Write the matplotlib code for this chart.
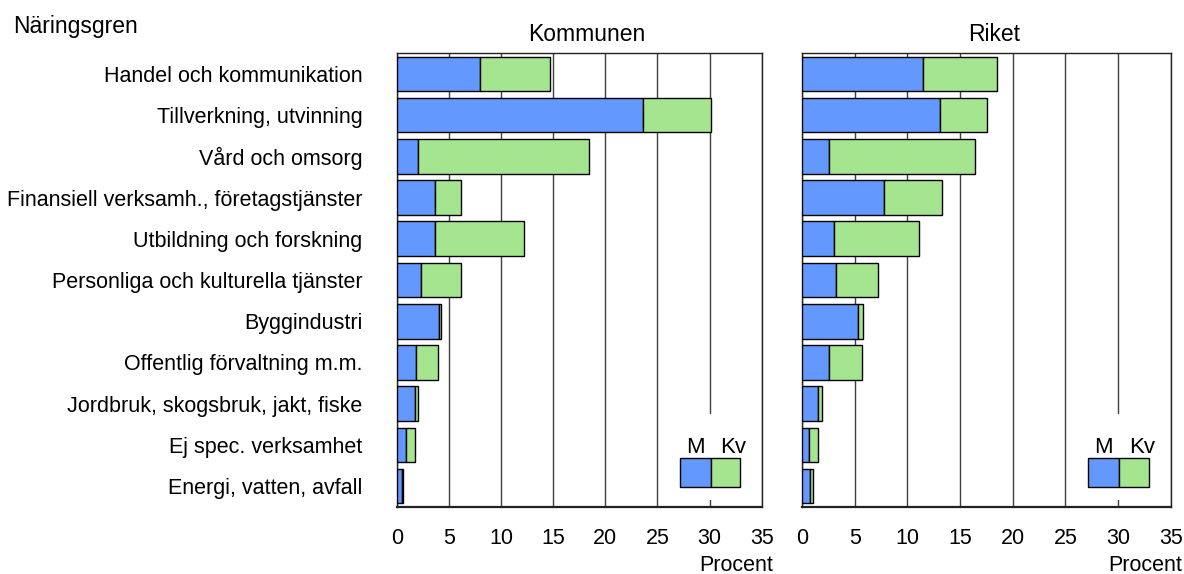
#! /usr/bin/env python3
import matplotlib
matplotlib.use("Agg")
import matplotlib.pyplot as plt
from matplotlib.patches import Rectangle

plt.rcParams["font.family"] = ["Liberation Sans", "DejaVu Sans"]

CATEGORIES = [
    "Handel och kommunikation",
    "Tillverkning, utvinning",
    "Vård och omsorg",
    "Finansiell verksamh., företagstjänster",
    "Utbildning och forskning",
    "Personliga och kulturella tjänster",
    "Byggindustri",
    "Offentlig förvaltning m.m.",
    "Jordbruk, skogsbruk, jakt, fiske",
    "Ej spec. verksamhet",
    "Energi, vatten, avfall",
]

# percent of employed, men (M) and women (Kv)
kommun_m = [8.0, 23.6, 2.0, 3.6, 3.6, 2.35, 4.0, 1.8, 1.7, 0.85, 0.5]
kommun_kv = [6.65, 6.5, 16.4, 2.5, 8.55, 3.75, 0.2, 2.15, 0.3, 0.85, 0.05]
riket_m = [11.45, 13.1, 2.6, 7.75, 3.05, 3.25, 5.3, 2.6, 1.5, 0.65, 0.8]
riket_kv = [7.05, 4.45, 13.8, 5.5, 8.05, 3.95, 0.45, 3.1, 0.35, 0.9, 0.2]

XTICKS = [0, 5, 10, 15, 20, 25, 30, 35]

BLUE = "#6399ff"
GREEN = "#a6e590"
FS = 15.5


def panel(ax, title, m, kv):
    y = list(range(len(CATEGORIES)))
    ax.barh(y, m, height=0.84, color=BLUE, edgecolor="black", linewidth=1.0, zorder=3)
    ax.barh(y, kv, left=m, height=0.84, color=GREEN, edgecolor="black", linewidth=1.0, zorder=3)
    ax.set_xlim(0, 35)
    ax.set_ylim(len(CATEGORIES) - 0.5, -0.5)
    ax.set_xticks(XTICKS)
    ax.tick_params(axis="x", length=0, labelsize=FS, pad=15)
    ax.tick_params(axis="y", length=0)
    ax.grid(axis="x", color="#404040", linewidth=1.0, zorder=1)
    for s in ax.spines.values():
        s.set_color("#222222")
        s.set_linewidth(1.0)
    ax.spines["bottom"].set_linewidth(1.6)
    ax.set_title(title, fontsize=16.5, pad=9, x=0.52)
    ax.text(1.031, -0.129, "Procent", transform=ax.transAxes,
        ha="right", va="center", fontsize=FS)

    # legend box, labels above the swatches
    ax.add_patch(Rectangle((0.74, 0.015), 0.235, 0.19, transform=ax.transAxes,
        facecolor="white", edgecolor="none", zorder=2))
    ax.add_patch(Rectangle((0.776, 0.043), 0.084, 0.064, transform=ax.transAxes,
        facecolor=BLUE, edgecolor="black", linewidth=1.0, zorder=4))
    ax.add_patch(Rectangle((0.860, 0.043), 0.080, 0.064, transform=ax.transAxes,
        facecolor=GREEN, edgecolor="black", linewidth=1.0, zorder=4))
    ax.text(0.818, 0.118, "M", transform=ax.transAxes, ha="center",
        va="baseline", fontsize=16)
    ax.text(0.922, 0.118, "Kv", transform=ax.transAxes, ha="center",
        va="baseline", fontsize=16)


fig = plt.figure(figsize=(11.84, 5.74), dpi=100)
ax1 = fig.add_axes([0.3353, 0.1172, 0.3080, 0.7900])
ax2 = fig.add_axes([0.6774, 0.1172, 0.3114, 0.7900])

panel(ax1, "Kommunen", kommun_m, kommun_kv)
panel(ax2, "Riket", riket_m, riket_kv)

ax1.set_yticks(range(len(CATEGORIES)))
ax1.set_yticklabels(CATEGORIES, fontsize=FS)
ax1.tick_params(axis="y", pad=25)
ax2.set_yticks([])

fig.text(0.011, 0.953, "Näringsgren", ha="left", va="center", fontsize=16.5)

fig.savefig("out.png", dpi=100)
